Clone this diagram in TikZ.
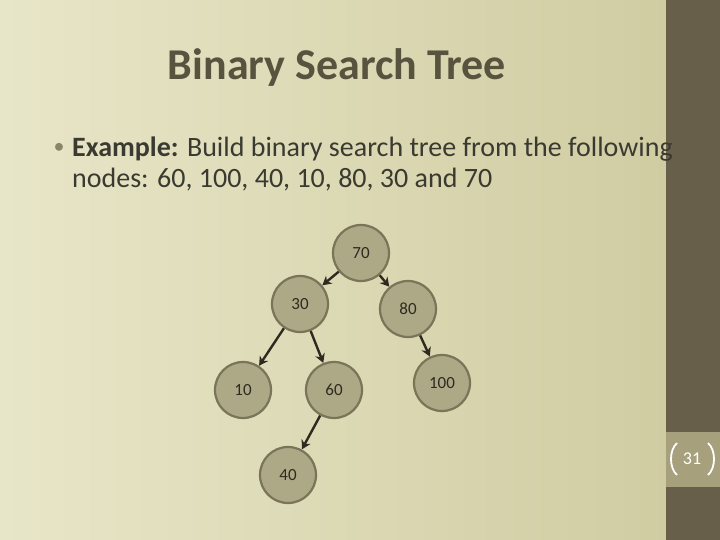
\documentclass[tikz,border=0pt]{standalone}
\usepackage{fontspec}
\setmainfont{Carlito}
\definecolor{bgA}{HTML}{E8E6C8}
\definecolor{bgB}{HTML}{D0CCA2}
\definecolor{strip}{HTML}{675F49}
\definecolor{numbox}{HTML}{A7A07D}
\definecolor{nodefill}{HTML}{ADA986}
\definecolor{nodeedge}{HTML}{7A7458}
\definecolor{titlec}{HTML}{57533F}
\definecolor{textc}{HTML}{3A3A30}
\definecolor{bulletc}{HTML}{8A8468}
\definecolor{arrowc}{HTML}{2E2A20}
\tikzset{
  tnode/.style={circle,draw=nodeedge,line width=2.2pt,fill=nodefill,minimum size=56pt,inner sep=0pt,font=\fontsize{17}{19}\selectfont,text=arrowc},
  tarrow/.style={draw=arrowc,line width=2.4pt,-{Stealth[length=9pt,width=10pt]}}
}
\usetikzlibrary{arrows.meta}
\begin{document}
\begin{tikzpicture}[x=1pt,y=-1pt]
\useasboundingbox (0,0) rectangle (720,540);
\shade[left color=bgA,right color=bgB] (0,0) rectangle (666,540);
\fill[strip] (666,0) rectangle (720,540);
\fill[numbox] (666,432) rectangle (720,487);
\node[text=white,font=\fontsize{18}{20}\selectfont] (pg) at (692,459) {31};
\draw[white,line width=1.8pt] (677,443) .. controls (669,450) and (669,468) .. (677,475);
\draw[white,line width=1.8pt] (708,443) .. controls (716,450) and (716,468) .. (708,475);
\node[text=titlec,font=\fontsize{44}{48}\selectfont\bfseries] (title) at (337,68) {Binary Search Tree};
\node[anchor=west,text=bulletc,font=\fontsize{22}{24}\selectfont] (bul) at (50,148) {•};
\node[anchor=west,text=textc,font=\fontsize{28}{31}\selectfont,align=left,inner sep=0pt] (txt) at (72,164) {\textbf{Example:} Build binary search tree from the following\\nodes: 60, 100, 40, 10, 80, 30 and 70};
\node[tnode] (n70) at (361,253) {70};
\node[tnode] (n30) at (300,304) {30};
\node[tnode] (n80) at (408,309) {80};
\node[tnode] (n10) at (243,390) {10};
\node[tnode] (n60) at (334,390) {60};
\node[tnode] (n100) at (442,383) {100};
\node[tnode] (n40) at (288,475) {40};
\draw[tarrow] (n70) -- (n30);
\draw[tarrow] (n70) -- (n80);
\draw[tarrow] (n30) -- (n10);
\draw[tarrow] (n30) -- (n60);
\draw[tarrow] (n80) -- (n100);
\draw[tarrow] (n60) -- (n40);
\end{tikzpicture}
\end{document}
